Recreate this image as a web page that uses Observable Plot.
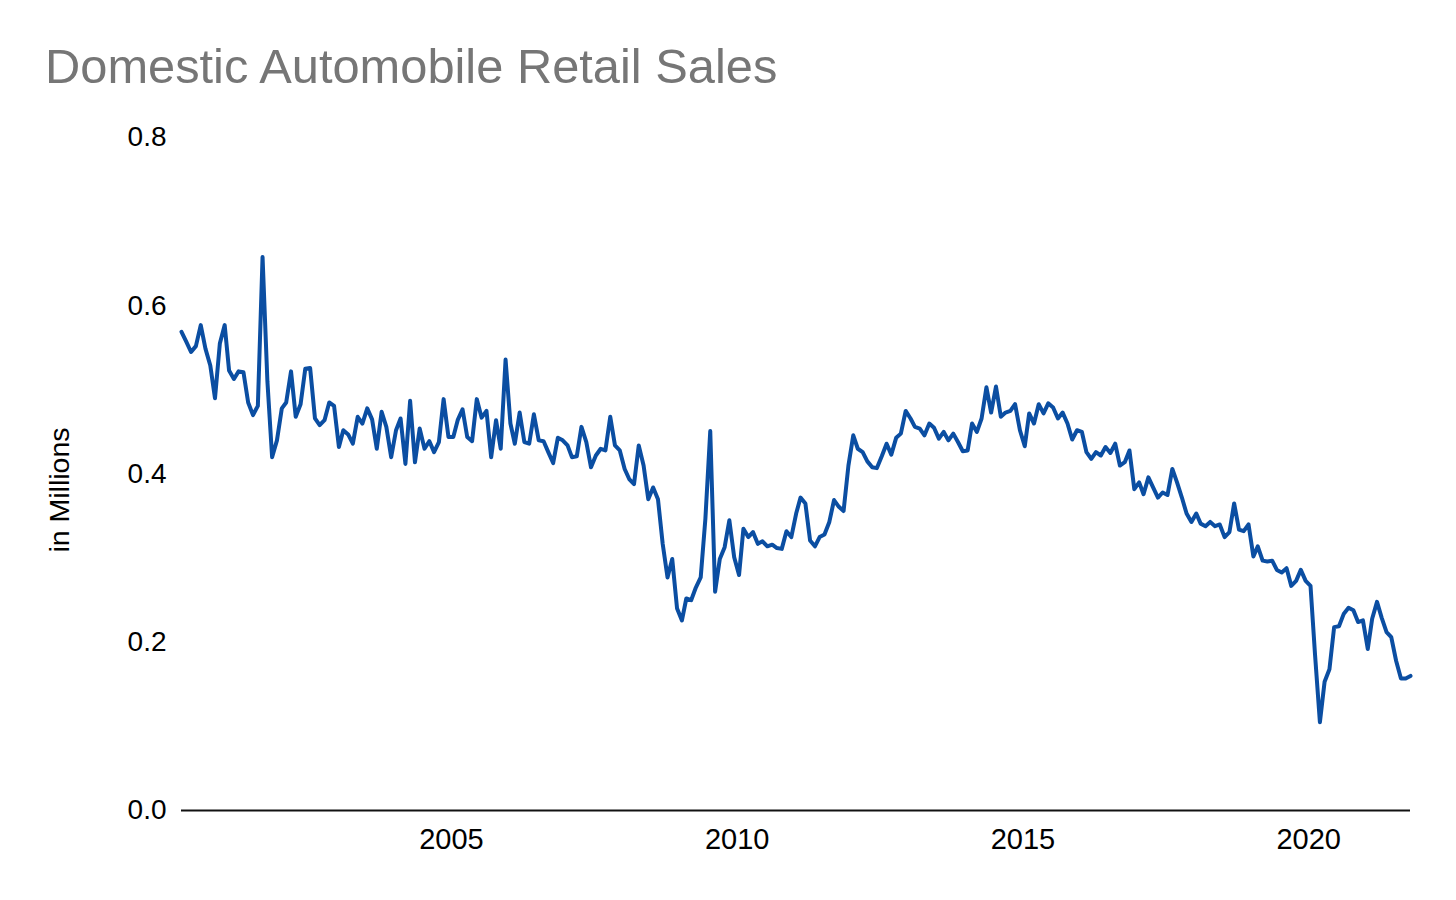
<!DOCTYPE html>
<html><head><meta charset="utf-8">
<script src="https://cdn.jsdelivr.net/npm/d3@7"></script>
<script src="https://cdn.jsdelivr.net/npm/@observablehq/plot@0.6"></script>
<style>
body{margin:0;background:#fff;font-family:"Liberation Sans",Arial,sans-serif;}
#wrap{position:relative;width:1456px;height:900px;}
#title{position:absolute;left:45px;top:42px;font-size:48.8px;line-height:48px;color:#767676;white-space:nowrap;}
#chart{position:absolute;left:0;top:110px;}
</style></head><body>
<div id="wrap"><div id="title">Domestic Automobile Retail Sales</div><div id="chart"></div></div>
<script>
// Monthly series, first month = May 2000
const startYear = 2000;
const startMonth = 4; // 0-based: May
const sales = [
0.569,0.557,0.545,0.552,0.577,0.549,0.529,0.490,0.555,0.577,
0.523,0.513,0.522,0.521,0.485,0.470,0.481,0.658,0.510,0.420,
0.440,0.478,0.485,0.522,0.468,0.483,0.525,0.526,0.466,0.458,
0.464,0.485,0.481,0.432,0.452,0.447,0.436,0.468,0.460,0.478,
0.465,0.430,0.474,0.456,0.420,0.452,0.466,0.412,0.487,0.414,
0.454,0.430,0.439,0.426,0.438,0.489,0.444,0.444,0.464,0.477,
0.444,0.439,0.489,0.467,0.475,0.420,0.464,0.430,0.536,0.460,
0.436,0.473,0.438,0.436,0.471,0.440,0.439,0.426,0.413,0.443,
0.440,0.434,0.420,0.421,0.456,0.438,0.408,0.422,0.430,0.428,
0.468,0.434,0.428,0.406,0.394,0.388,0.434,0.410,0.370,0.384,
0.370,0.317,0.277,0.299,0.240,0.226,0.252,0.250,0.265,0.277,
0.347,0.451,0.260,0.299,0.313,0.345,0.301,0.280,0.335,0.325,
0.331,0.317,0.320,0.314,0.316,0.312,0.311,0.332,0.325,0.353,
0.372,0.365,0.321,0.314,0.325,0.328,0.343,0.369,0.361,0.356,
0.410,0.446,0.430,0.426,0.415,0.408,0.407,0.421,0.436,0.423,
0.443,0.448,0.475,0.466,0.456,0.454,0.446,0.460,0.455,0.442,
0.450,0.440,0.448,0.438,0.427,0.428,0.460,0.450,0.466,0.503,
0.473,0.504,0.468,0.473,0.475,0.483,0.452,0.433,0.472,0.460,
0.483,0.472,0.484,0.479,0.466,0.473,0.460,0.441,0.452,0.450,
0.426,0.418,0.426,0.422,0.432,0.425,0.436,0.410,0.414,0.428,
0.382,0.390,0.376,0.396,0.384,0.372,0.378,0.375,0.406,0.390,
0.372,0.353,0.343,0.353,0.341,0.338,0.343,0.338,0.340,0.325,
0.331,0.365,0.334,0.332,0.340,0.302,0.314,0.297,0.296,0.297,
0.286,0.283,0.288,0.267,0.273,0.286,0.273,0.267,0.185,0.105,
0.153,0.168,0.218,0.219,0.234,0.241,0.238,0.224,0.226,0.192,
0.228,0.248,0.229,0.212,0.206,0.178,0.157,0.157,0.160
];
const xTickYears = [2005, 2010, 2015, 2020];
const yTicks = [0, 0.2, 0.4, 0.6, 0.8];
const yLabel = "in Millions";

const data = sales.map((v, i) => ({date: new Date(Date.UTC(startYear, startMonth + i, 1)), value: v}));

const chart = Plot.plot({
  width: 1456, height: 750,
  marginLeft: 181, marginRight: 46, marginTop: 27, marginBottom: 50,
  style: {fontFamily: "Liberation Sans, Arial, sans-serif", background: "white", color: "black", overflow: "visible"},
  x: {type: "utc", domain: d3.extent(data, d => d.date)},
  y: {domain: [0, 0.8]},
  marks: [
    Plot.axisY({ticks: yTicks, tickFormat: d3.format(".1f"), tickSize: 0, tickPadding: 15, fontSize: 28, label: null}),
    Plot.axisX({ticks: xTickYears.map(y => new Date(Date.UTC(y, 0, 1))), tickFormat: d3.utcFormat("%Y"), tickSize: 0, tickPadding: 18, dx: 3, fontSize: 29, label: null}),
    Plot.ruleY([0], {stroke: "#111", strokeWidth: 2}),
    Plot.lineY(data, {x: "date", y: "value", stroke: "#0b4ea2", strokeWidth: 4}),
    Plot.text([yLabel], {frameAnchor: "left", textAnchor: "middle", dx: -122, dy: 16, rotate: -90, fontSize: 28.5, fill: "black"})
  ]
});
document.getElementById("chart").appendChild(chart);
</script></body></html>
